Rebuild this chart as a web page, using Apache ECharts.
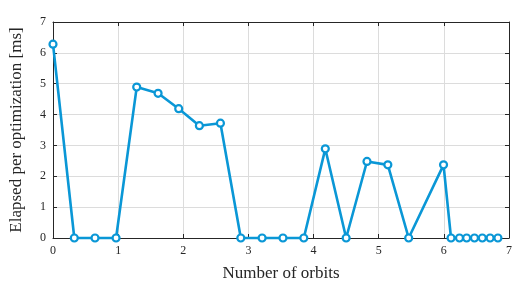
<html lang="en">
<head>
  <meta charset="UTF-8">
  <title>elapsed per optimization</title>
  <style>
    html, body { margin: 0; padding: 0; background: #fff; }
    #chart { width: 525px; height: 284px; }
  </style>
</head>
<body>
  <div id="chart"></div>
  <script src="https://cdn.jsdelivr.net/npm/echarts@6/dist/echarts.min.js"></script>
  <script>
    // orbit counts and elapsed time per optimization [ms]
    var orbits = [0, 0.327, 0.645, 0.968, 1.285, 1.613, 1.93, 2.247, 2.57, 2.883,
      3.21, 3.53, 3.85, 4.18, 4.5, 4.82, 5.14, 5.46, 5.995,
      6.11, 6.24, 6.35, 6.47, 6.59, 6.71, 6.83]
    var elapsed = [6.28, 0, 0, 0, 4.89, 4.69, 4.19, 3.64, 3.72, 0,
      0, 0, 0, 2.89, 0, 2.48, 2.37, 0, 2.37,
      0, 0, 0, 0, 0, 0, 0]
    var xTicks = [0, 1, 2, 3, 4, 5, 6, 7]
    var yTicks = [0, 1, 2, 3, 4, 5, 6, 7]

    var onload = function () {
      var pts = orbits.map(function (x, i) { return [x, elapsed[i]] })
      var font = '"Liberation Serif", "DejaVu Serif", serif'
      var boxLine = { show: true, onZero: false, lineStyle: { color: '#262626', width: 1 } }
      var tick = { show: true, inside: true, length: 4, lineStyle: { color: '#262626' } }
      var grid = { show: true, lineStyle: { color: '#dcdcdc', width: 1 } }

      var option = {
        animation: false,
        grid: { left: 53, right: 16, top: 22, bottom: 46, outerBoundsMode: 'none', containLabel: false },
        xAxis: [
          {
            type: 'value',
            min: xTicks[0],
            max: xTicks[xTicks.length - 1],
            interval: 1,
            name: 'Number of orbits',
            nameLocation: 'middle',
            nameGap: 27,
            nameTextStyle: { fontFamily: font, fontSize: 17, color: '#262626' },
            axisLine: boxLine,
            axisTick: tick,
            axisLabel: { fontFamily: font, fontSize: 12, color: '#262626', margin: 7 },
            splitLine: grid
          },
          {
            type: 'value',
            position: 'top',
            min: 0, max: 7, interval: 1,
            axisLine: boxLine,
            axisTick: tick,
            axisLabel: { show: false },
            splitLine: { show: false }
          }
        ],
        yAxis: [
          {
            type: 'value',
            min: yTicks[0],
            max: yTicks[yTicks.length - 1],
            interval: 1,
            name: 'Elapsed per optimization [ms]',
            nameLocation: 'middle',
            nameGap: 28,
            nameTextStyle: { fontFamily: font, fontSize: 17, color: '#262626' },
            axisLine: boxLine,
            axisTick: tick,
            axisLabel: { fontFamily: font, fontSize: 12, color: '#262626', margin: 7 },
            splitLine: grid
          },
          {
            type: 'value',
            position: 'right',
            min: 0, max: 7, interval: 1,
            axisLine: boxLine,
            axisTick: tick,
            axisLabel: { show: false },
            splitLine: { show: false }
          }
        ],
        series: [{
          type: 'line',
          data: pts,
          xAxisIndex: 0,
          yAxisIndex: 0,
          symbol: 'circle',
          symbolSize: 7,
          showAllSymbol: true,
          clip: false,
          lineStyle: { color: '#0a97d6', width: 2.6 },
          itemStyle: { color: '#ffffff', borderColor: '#0a97d6', borderWidth: 2.2 }
        }]
      }

      var chart = echarts.init(document.getElementById('chart'))
      chart.setOption(option)
    }
    window.onload = onload
  </script>
</body>
</html>
